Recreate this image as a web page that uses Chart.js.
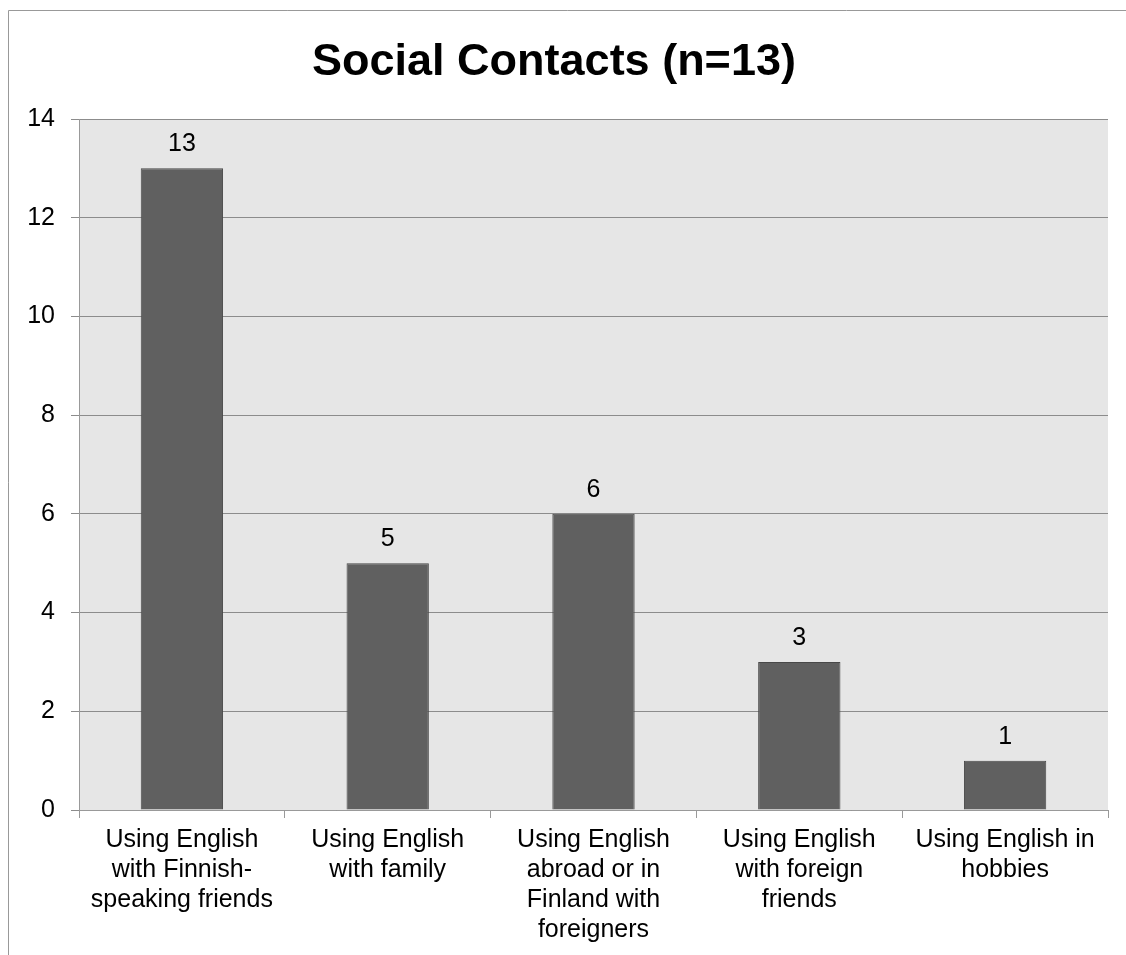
<!DOCTYPE html>
<html>
<head>
<meta charset="utf-8">
<script src="https://cdn.jsdelivr.net/npm/chart.js@4"></script>
<style>
  html, body { margin: 0; padding: 0; background: #fff; }
  canvas { display: block; }
</style>
</head>
<body>
<canvas id="chart" width="1126" height="955"></canvas>
<script>
// Social contacts chart

const categories = [
  ['Using English', 'with Finnish-', 'speaking friends'],
  ['Using English', 'with family'],
  ['Using English', 'abroad or in', 'Finland with', 'foreigners'],
  ['Using English', 'with foreign', 'friends'],
  ['Using English in', 'hobbies']
];
const counts = [13, 5, 6, 3, 1];
const yTicks = [0, 2, 4, 6, 8, 10, 12, 14];

const FONT = "'Liberation Sans', Arial, sans-serif";

// outer frame + grey plot background
const backdrop = {
  id: 'backdrop',
  beforeDraw(chart) {
    const { ctx, chartArea } = chart;
    ctx.save();
    ctx.strokeStyle = '#999';
    ctx.lineWidth = 1;
    ctx.beginPath();
    ctx.moveTo(8.5, 955);
    ctx.lineTo(8.5, 10.5);
    ctx.lineTo(1126, 10.5);
    ctx.stroke();
    ctx.fillStyle = '#e6e6e6';
    ctx.fillRect(chartArea.left, chartArea.top, chartArea.right - chartArea.left, chartArea.bottom - chartArea.top);
    ctx.restore();
  }
};

// value labels above the bars
const valueLabels = {
  id: 'valueLabels',
  afterDatasetsDraw(chart) {
    const { ctx } = chart;
    const meta = chart.getDatasetMeta(0);
    ctx.save();
    ctx.font = '25px ' + FONT;
    ctx.fillStyle = '#000';
    ctx.textAlign = 'center';
    ctx.textBaseline = 'alphabetic';
    meta.data.forEach((bar, i) => {
      ctx.fillText(String(counts[i]), bar.x, bar.y - 17);
    });
    ctx.restore();
  }
};

new Chart(document.getElementById('chart'), {
  type: 'bar',
  data: {
    labels: categories,
    datasets: [{
      data: counts,
      backgroundColor: '#606060',
      borderColor: '#484848',
      borderWidth: 1,
      barPercentage: 0.8,
      categoryPercentage: 0.5
    }]
  },
  options: {
    responsive: false,
    animation: false,
    layout: { padding: { left: 0, right: 18, top: 0, bottom: 0 } },
    plugins: {
      legend: { display: false },
      tooltip: { enabled: false },
      title: {
        display: true,
        text: 'Social Contacts (n=13)',
        color: '#000',
        font: { family: FONT, size: 45, weight: 'bold' },
        padding: { top: 36, bottom: 29 }
      }
    },
    scales: {
      x: {
        grid: {
          offset: true,
          drawOnChartArea: false,
          drawTicks: true,
          tickLength: 8,
          color: '#999'
        },
        border: { color: '#999', width: 1 },
        ticks: {
          color: '#000',
          maxRotation: 0,
          autoSkip: false,
          padding: 7,
          font: { family: FONT, size: 25, lineHeight: 1.2 }
        },
        afterFit(scale) { scale.height = 145; }
      },
      y: {
        min: 0,
        max: 14,
        afterBuildTicks(scale) { scale.ticks = yTicks.map(v => ({ value: v })); },
        grid: {
          color: '#8c8c8c',
          lineWidth: 1,
          drawTicks: true,
          tickLength: 8
        },
        border: { color: '#999', width: 1 },
        ticks: {
          color: '#000',
          padding: 16,
          font: { family: FONT, size: 25 }
        },
        afterFit(scale) { scale.width = 79; }
      }
    }
  },
  plugins: [backdrop, valueLabels]
});
</script>
</body>
</html>
